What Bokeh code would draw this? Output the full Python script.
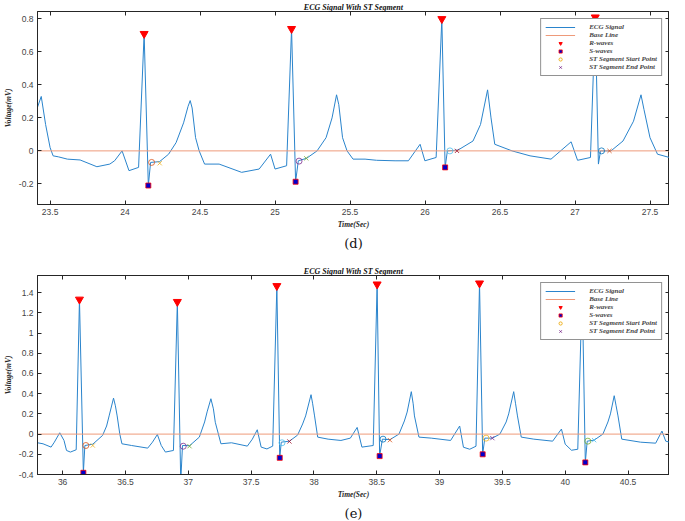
from bokeh.plotting import figure
from bokeh.models import (LinearAxis, FixedTicker, CustomJSTickFormatter,
                          Range1d, Legend, LegendItem)
from bokeh.layouts import column
from bokeh.embed import file_html
from bokeh.resources import INLINE

# ---------------- data: panel (d) ----------------
t_d = [23.416, 23.441, 23.47, 23.50, 23.52, 23.555, 23.615, 23.70, 23.812, 23.898,
       23.93, 23.98, 24.026, 24.09, 24.127, 24.155, 24.17, 24.23, 24.29, 24.34,
       24.39, 24.42, 24.434, 24.447, 24.47, 24.494, 24.53, 24.627, 24.777, 24.894,
       24.97, 25.0, 25.077, 25.11, 25.137, 25.155, 25.21, 25.28, 25.34, 25.38,
       25.41, 25.425, 25.45, 25.48, 25.52, 25.60, 25.677, 25.80, 25.889, 25.967,
       25.999, 26.074, 26.112, 26.134, 26.149, 26.22, 26.32, 26.37, 26.417, 26.44,
       26.465, 26.58, 26.70, 26.84, 26.974, 27.017, 27.103, 27.135, 27.156, 27.17,
       27.24, 27.32, 27.39, 27.44, 27.46, 27.50, 27.55, 27.63]
v_d = [0.265, 0.33, 0.16, 0.02, -0.03, -0.036, -0.05, -0.055, -0.096, -0.08,
       -0.06, 0.0, -0.12, -0.10, 0.71, -0.21, -0.07, -0.065, -0.02, 0.05,
       0.17, 0.27, 0.305, 0.26, 0.08, 0.0, -0.08, -0.08, -0.13, -0.11,
       -0.02, -0.11, -0.09, 0.74, -0.187, -0.06, -0.045, 0.0, 0.08, 0.2,
       0.34, 0.28, 0.08, 0.0, -0.05, -0.05, -0.057, -0.06, -0.06, 0.04,
       -0.06, -0.04, 0.80, -0.10, 0.0, 0.005, 0.06, 0.16, 0.37, 0.2,
       0.04, 0.0, -0.03, -0.05, 0.055, -0.057, -0.04, 0.81, -0.08, 0.0,
       0.0, 0.06, 0.18, 0.34, 0.25, 0.08, -0.02, -0.04]
r_t_d = [24.127, 25.11, 26.112, 27.135]
r_v_d = [0.71, 0.74, 0.80, 0.81]
s_t_d = [24.155, 25.137, 26.134]
s_v_d = [-0.21, -0.187, -0.10]
sts_t_d = [24.177, 25.16, 26.166, 27.177]
sts_v_d = [-0.07, -0.062, 0.0, 0.0]
ste_t_d = [24.231, 25.208, 26.213, 27.23]
ste_v_d = [-0.075, -0.045, 0.0, 0.0]
xticks_d = [23.5, 24, 24.5, 25, 25.5, 26, 26.5, 27, 27.5]
yticks_d = [-0.2, 0, 0.2, 0.4, 0.6, 0.8]

# ---------------- data: panel (e) ----------------
t_e = [35.80, 35.844, 35.908, 35.934, 35.977, 36.011, 36.031, 36.062, 36.108, 36.134,
       36.165, 36.177, 36.24, 36.318, 36.35, 36.37, 36.405, 36.42, 36.434, 36.455,
       36.472, 36.549, 36.677, 36.715, 36.754, 36.785, 36.818, 36.882, 36.913, 36.94,
       36.954, 37.01, 37.088, 37.13, 37.15, 37.18, 37.20, 37.215, 37.26, 37.344,
       37.47, 37.51, 37.549, 37.58, 37.626, 37.672, 37.705, 37.728, 37.74, 37.805,
       37.87, 37.91, 37.934, 37.977, 37.99, 38.005, 38.03, 38.113, 38.215, 38.29,
       38.344, 38.382, 38.472, 38.503, 38.523, 38.545, 38.605, 38.677, 38.72, 38.742,
       38.775, 38.79, 38.80, 38.836, 38.934, 39.088, 39.16, 39.19, 39.24, 39.29,
       39.318, 39.343, 39.36, 39.42, 39.48, 39.53, 39.55, 39.59, 39.605, 39.62,
       39.65, 39.75, 39.90, 39.97, 40.0, 40.05, 40.10, 40.135, 40.16, 40.175,
       40.23, 40.30, 40.34, 40.36, 40.39, 40.405, 40.42, 40.45, 40.60, 40.72,
       40.77, 40.80, 40.83]
v_e = [-0.086, -0.096, -0.129, -0.08, 0.013, -0.063, -0.162, -0.178, -0.155, 1.333,
       -0.383, -0.113, -0.10, -0.013, 0.08, 0.18, 0.356, 0.28, 0.18, 0.0,
       -0.096, -0.113, -0.139, -0.08, -0.004, -0.113, -0.178, -0.162, 1.31, -0.47,
       -0.113, -0.115, -0.03, 0.12, 0.22, 0.35, 0.25, 0.117, -0.096, -0.086,
       -0.119, -0.05, 0.043, -0.129, -0.147, -0.119, 1.467, -0.235, -0.08, -0.07,
       -0.01, 0.1, 0.18, 0.39, 0.3, 0.18, -0.03, -0.05, -0.063, -0.04,
       0.066, -0.129, -0.113, 1.483, -0.218, -0.05, -0.055, 0.0, 0.13, 0.218,
       0.42, 0.3, 0.18, -0.03, -0.04, -0.063, 0.08, -0.13, -0.15, -0.12,
       1.493, -0.20, -0.04, -0.04, 0.0, 0.12, 0.2, 0.42, 0.3, 0.18,
       -0.03, -0.05, -0.07, 0.05, -0.1, -0.16, -0.15, 1.45, -0.28, -0.07,
       -0.06, 0.0, 0.12, 0.2, 0.38, 0.28, 0.18, -0.05, -0.08, -0.09,
       0.03, -0.07, -0.08]
r_t_e = [36.134, 36.913, 37.705, 38.503, 39.318, 40.135]
r_v_e = [1.333, 1.31, 1.467, 1.483, 1.493, 1.45]
s_t_e = [36.165, 36.94, 37.728, 38.523, 39.343, 40.16]
s_v_e = [-0.383, -0.47, -0.235, -0.218, -0.20, -0.28]
sts_t_e = [36.185, 36.96, 37.746, 38.55, 39.37, 40.18]
sts_v_e = [-0.113, -0.12, -0.086, -0.05, -0.04, -0.07]
ste_t_e = [36.24, 37.01, 37.805, 38.605, 39.42, 40.23]
ste_v_e = [-0.113, -0.12, -0.073, -0.06, -0.04, -0.06]
xticks_e = [36, 36.5, 37, 37.5, 38, 38.5, 39, 39.5, 40, 40.5]
yticks_e = [-0.4, -0.2, 0, 0.2, 0.4, 0.6, 0.8, 1, 1.2, 1.4]

baseline_v = 0.0
mcolors = ["#0072BD", "#D95319", "#EDB120", "#7E2F8E", "#77AC30", "#4DBEEE", "#A2142F"]

title_txt = "ECG Signal With ST Segment"
legend_labels = ["ECG Signal", "Base Line", "R-waves", "S-waves",
                 "ST Segment Start Point", "ST Segment End Point"]

AX = "#262626"
NAN = float("nan")


def make_panel(t, v, rt, rv, st, sv, sst, ssv, est, esv, xr, yr, xt, yt, caption,
               height, top_border):
    p = figure(width=669, height=height, x_range=Range1d(*xr), y_range=Range1d(*yr),
               output_backend="svg", toolbar_location=None,
               min_border_left=4, min_border_right=0, min_border_top=top_border,
               min_border_bottom=0, x_axis_location=None, y_axis_location=None)
    p.grid.visible = False
    p.outline_line_color = AX
    p.outline_line_width = 1
    p.background_fill_color = "white"

    for loc, dim in (("below", "x"), ("above", "x"), ("left", "y"), ("right", "y")):
        ticks = xt if dim == "x" else yt
        hidden = loc in ("above", "right")
        code = "return '';" if hidden else "return String(Math.round(tick*10)/10);"
        ax = LinearAxis(ticker=FixedTicker(ticks=ticks),
                        formatter=CustomJSTickFormatter(code=code))
        ax.axis_line_color = AX
        ax.major_tick_line_color = AX
        ax.major_tick_in = 4
        ax.major_tick_out = 0
        ax.minor_tick_line_color = None
        ax.major_label_text_font = "Liberation Sans"
        ax.major_label_text_font_size = "8.5px"
        ax.major_label_text_color = "#444444"
        ax.major_label_standoff = 0 if hidden else 4
        if loc == "below":
            ax.axis_label = "Time(Sec)"
            ax.axis_label_standoff = 2
        if loc == "left":
            ax.axis_label = "Voltage(mV)"
            ax.axis_label_standoff = 3
        ax.axis_label_text_font = "Liberation Serif"
        ax.axis_label_text_font_style = "bold italic"
        ax.axis_label_text_font_size = "7.5px"
        ax.axis_label_text_color = AX
        p.add_layout(ax, loc)

    # caption "(d)" / "(e)" as the label of a bare axis under the time axis
    cap = LinearAxis(ticker=FixedTicker(ticks=[]), axis_label=caption)
    cap.axis_line_color = None
    cap.major_tick_line_color = None
    cap.minor_tick_line_color = None
    cap.major_tick_in = 0
    cap.major_tick_out = 0
    cap.major_label_standoff = 0
    cap.axis_label_standoff = 4
    cap.axis_label_text_font = "DejaVu Serif"
    cap.axis_label_text_font_size = "13px"
    cap.axis_label_text_font_style = "normal"
    cap.axis_label_text_color = "#111111"
    p.add_layout(cap, "below")

    p.title.text = title_txt
    p.title.align = "center"
    p.title.text_font = "Liberation Serif"
    p.title.text_font_style = "bold italic"
    p.title.text_font_size = "8px"
    p.title.text_color = "#111111"
    p.title.standoff = 0

    ecg = p.line(t, v, color="#2A84CC", line_width=1)
    base = p.line([t[0], t[-1]], [baseline_v, baseline_v], color="#EE9A7A",
                  line_width=1)
    rr = p.scatter(rt, rv, marker="inverted_triangle", size=8, fill_color="#FF0000",
                   line_color="#FF0000")
    ss = p.scatter(st, sv, marker="square", size=5, fill_color="#0000CC",
                   line_color="#FF0000", line_width=0.8)
    n = len(sst)
    c_start = [mcolors[(1 + 2 * i) % 7] for i in range(n)]
    c_end = [mcolors[(2 + 2 * i) % 7] for i in range(n)]
    p.scatter(sst, ssv, marker="circle", size=6, fill_color=None,
              line_color=c_start, line_width=0.8)
    p.scatter(est, esv, marker="x", size=6, line_color=c_end, line_width=0.8)
    # legend proxies (NaN -> nothing drawn in the plot) with legend colours
    lg_s = p.scatter([NAN], [NAN], marker="circle", fill_color=None,
                     line_color="#EDB120", line_width=1)
    lg_e = p.scatter([NAN], [NAN], marker="x", line_color="#7E2F8E", line_width=1)

    items = [LegendItem(label=lab, renderers=[r]) for lab, r in
             zip(legend_labels, [ecg, base, rr, ss, lg_s, lg_e])]
    leg = Legend(items=items, location="top_right")
    leg.label_text_font = "Liberation Serif"
    leg.label_text_font_style = "bold italic"
    leg.label_text_font_size = "7px"
    leg.label_height = 7
    leg.glyph_height = 8
    leg.glyph_width = 30
    leg.spacing = 0
    leg.padding = 4
    leg.margin = 7
    leg.label_standoff = 14
    leg.border_line_color = AX
    leg.border_line_width = 1
    leg.background_fill_alpha = 1
    p.add_layout(leg, "center")
    return p


p1 = make_panel(t_d, v_d, r_t_d, r_v_d, s_t_d, s_v_d, sts_t_d, sts_v_d, ste_t_d, ste_v_d,
                (23.416, 27.63), (-0.325, 0.845), xticks_d, yticks_d, "(d)", 253, 0)
p2 = make_panel(t_e, v_e, r_t_e, r_v_e, s_t_e, s_v_e, sts_t_e, sts_v_e, ste_t_e, ste_v_e,
                (35.80, 40.83), (-0.4, 1.57), xticks_e, yticks_e, "(e)", 270, 22)

layout = column(p1, p2, spacing=0)
open("out.html", "w").write(file_html(layout, INLINE))
